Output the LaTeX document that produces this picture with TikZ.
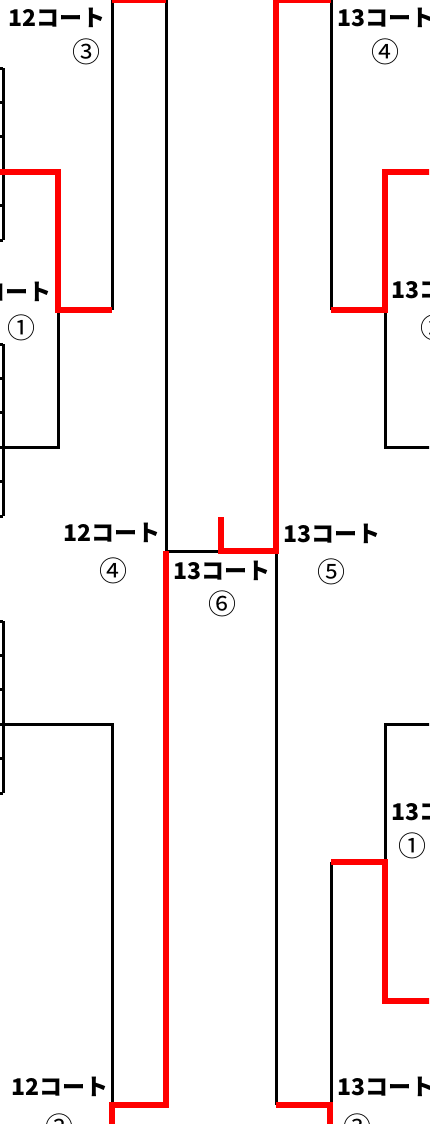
\documentclass[tikz,border=0pt]{standalone}
\usepackage{fontspec}
\newfontfamily\jpfont{Noto Sans CJK JP}
\tikzset{
    court/.style = {font=\jpfont\bfseries\fontsize{11.5}{12}\selectfont, inner sep=0pt},
    round/.style = {font=\jpfont\fontsize{14}{14}\selectfont, inner sep=0pt},
    bline/.style = {draw=black, line width=1.5pt},
    win/.style   = {draw=red, line width=3.4pt}
}
\begin{document}
\begin{tikzpicture}[x=0.5pt,y=-0.5pt]
    \clip (0,0) rectangle (429,1124);
    % entry stubs at the left edge
    \foreach \top in {68,344,621} {
        \draw[bline] (3,\top) -- (3,\top+172);
        \foreach \k in {0,...,5}
            \draw[bline] (0,\top+34.4*\k) -- (3,\top+34.4*\k);
    }
    % left half
    \draw[bline] (112,0) -- (112,310);
    \draw[bline] (58,310) -- (58,447) -- (-5,447);
    \draw[bline] (166,0) -- (166,551) -- (276,551);
    \draw[bline] (-5,724) -- (112,724) -- (112,1105);
    \draw[win] (-5,172) -- (58,172) -- (58,310) -- (112,310);
    \draw[win] (112,0) -- (166,0);
    \draw[win] (166,551) -- (166,1105) -- (112,1105) -- (112,1130);
    % right half
    \draw[bline] (331,0) -- (331,310);
    \draw[bline] (385,310) -- (385,447) -- (435,447);
    \draw[bline] (276,551) -- (276,1105);
    \draw[bline] (435,724) -- (385,724) -- (385,862);
    \draw[bline] (331,862) -- (331,1105);
    \draw[win] (276,0) -- (331,0);
    \draw[win] (276,0) -- (276,551) -- (221,551) -- (221,517);
    \draw[win] (331,310) -- (385,310) -- (385,172) -- (435,172);
    \draw[win] (331,862) -- (385,862) -- (385,1001) -- (435,1001);
    \draw[win] (276,1105) -- (330,1105) -- (330,1130);
    % court labels
    \node (c3) [court] at (57,18) {12コート};
    \node (r3) [round] at (86,52) {③};
    \node (c1) [court] at (3,292) {12コート};
    \node (r1) [round] at (21,328) {①};
    \node (c4) [court] at (112,533) {12コート};
    \node (r4) [round] at (113,571) {④};
    \node (c2) [court] at (60,1087) {12コート};
    \node (r2) [round] at (59,1127) {②};
    \node (d6) [court] at (222,571) {13コート};
    \node (s6) [round] at (222,604) {⑥};
    \node (d5) [court] at (332,534) {13コート};
    \node (s5) [round] at (331,572) {⑤};
    \node (d4) [court] at (386,18) {13コート};
    \node (s4) [round] at (385,52) {④};
    \node (d2) [court] at (440,290) {13コート};
    \node (s2) [round] at (434,328) {②};
    \node (d1) [court] at (440,812) {13コート};
    \node (s1) [round] at (412,846) {①};
    \node (d3) [court] at (386,1087) {13コート};
    \node (s3) [round] at (357,1127) {③};
\end{tikzpicture}
\end{document}
